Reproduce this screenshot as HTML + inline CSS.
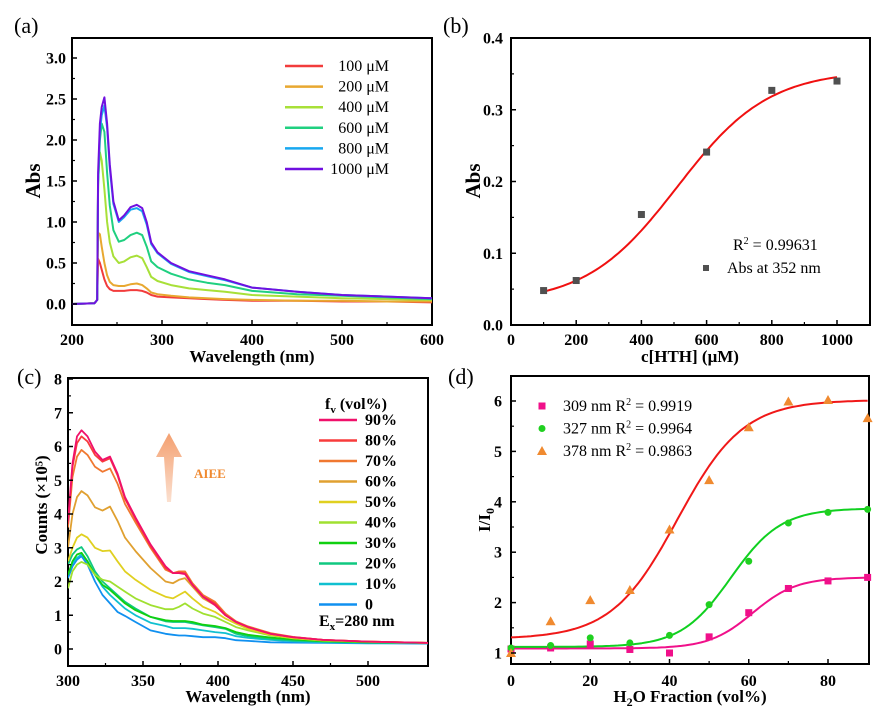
<!DOCTYPE html>
<html><head><meta charset="utf-8"><style>
html,body{margin:0;padding:0;background:#fff;}
svg{display:block;font-family:"Liberation Serif",serif;}
.tk{font-weight:bold;font-size:16px;}
.at{font-weight:bold;font-size:17px;}
.pl{font-size:22px;}
.lg{font-size:16px;}
</style></head><body>
<svg id="fig" width="890" height="709" viewBox="0 0 890 709" xmlns="http://www.w3.org/2000/svg"></svg>
<script>
// ---- Panel (a) data ----
const aWl = [200,225,228,229,231,233,236,239,242,246,252,258,265,272,278,283,288,295,310,330,350,370,400,450,500,550,600];
const aLabels = ["100 μM","200 μM","400 μM","600 μM","800 μM","1000 μM"];
const a100 = [0,0.01,0.05,0.55,0.5,0.42,0.3,0.22,0.18,0.16,0.16,0.16,0.17,0.17,0.16,0.14,0.11,0.09,0.08,0.07,0.06,0.05,0.04,0.04,0.03,0.03,0.02];
const a200 = [0,0.01,0.05,0.87,0.85,0.7,0.5,0.35,0.27,0.23,0.22,0.22,0.24,0.25,0.23,0.19,0.14,0.12,0.1,0.08,0.07,0.06,0.05,0.04,0.04,0.03,0.03];
const a400 = [0,0.01,0.05,1.5,1.85,1.75,1.4,1.0,0.75,0.58,0.5,0.52,0.57,0.59,0.56,0.45,0.33,0.28,0.23,0.19,0.17,0.15,0.11,0.09,0.07,0.06,0.05];
const a600 = [0,0.01,0.05,1.45,2.0,2.2,2.1,1.6,1.2,0.9,0.76,0.78,0.84,0.87,0.84,0.7,0.52,0.45,0.37,0.3,0.26,0.23,0.16,0.12,0.1,0.08,0.06];
const a800 = [0,0.01,0.05,1.5,2.1,2.3,2.42,2.15,1.65,1.22,1.0,1.06,1.15,1.17,1.13,0.97,0.73,0.62,0.49,0.39,0.34,0.29,0.2,0.15,0.11,0.09,0.07];
const a1000 = [0,0.01,0.05,1.6,2.2,2.4,2.52,2.2,1.7,1.25,1.02,1.08,1.18,1.21,1.17,1.0,0.75,0.63,0.5,0.4,0.35,0.3,0.2,0.15,0.11,0.09,0.07];
const aXTicks = [200,300,400,500,600];
const aYTicks = ["0.0","0.5","1.0","1.5","2.0","2.5","3.0"];
// ---- Panel (b) data ----
const bConc = [100,200,400,600,800,1000];
const bAbs = [0.048,0.062,0.154,0.241,0.327,0.340];
const bFitA1 = 0.03, bFitA2 = 0.355, bFitX0 = 510, bFitDx = 140;
const bXTicks = [0,200,400,600,800,1000];
const bYTicks = ["0.0","0.1","0.2","0.3","0.4"];
// ---- Panel (c) data ----
const cWl = [300,303,306,309,313,318,323,328,333,338,345,355,365,370,374,378,383,390,398,405,412,420,435,450,470,500,540];
const cLabels = ["90%","80%","70%","60%","50%","40%","30%","20%","10%","0"];
const c90 = [3.8,5.5,6.3,6.48,6.3,5.85,5.6,5.7,5.2,4.5,3.9,3.1,2.45,2.25,2.25,2.22,1.9,1.55,1.3,1.0,0.8,0.65,0.45,0.35,0.27,0.22,0.18];
const c80 = [3.7,5.4,6.1,6.3,6.15,5.75,5.55,5.65,5.15,4.45,3.85,3.05,2.4,2.25,2.27,2.25,1.9,1.55,1.35,1.0,0.8,0.65,0.45,0.35,0.27,0.22,0.18];
const c70 = [3.6,5.1,5.7,5.9,5.75,5.4,5.25,5.35,4.9,4.3,3.75,3.0,2.35,2.25,2.3,2.3,1.95,1.6,1.4,1.05,0.82,0.67,0.47,0.36,0.27,0.22,0.18];
const c60 = [3.0,4.0,4.5,4.68,4.55,4.2,4.1,4.22,3.8,3.3,2.9,2.4,2.0,1.95,2.05,2.1,1.85,1.5,1.3,1.0,0.8,0.65,0.45,0.35,0.27,0.22,0.18];
const c50 = [2.6,3.0,3.3,3.4,3.3,3.0,2.9,2.92,2.6,2.3,2.05,1.75,1.55,1.5,1.6,1.7,1.5,1.25,1.1,0.9,0.75,0.6,0.42,0.32,0.26,0.22,0.18];
const c40 = [1.8,2.3,2.5,2.58,2.5,2.2,2.05,2.0,1.85,1.7,1.5,1.3,1.18,1.18,1.25,1.35,1.2,1.05,0.95,0.8,0.65,0.55,0.4,0.32,0.25,0.21,0.18];
const c30 = [2.2,2.6,2.8,2.85,2.6,2.2,1.9,1.75,1.55,1.35,1.15,0.95,0.85,0.83,0.83,0.83,0.8,0.72,0.68,0.62,0.5,0.42,0.34,0.28,0.23,0.2,0.18];
const c20 = [2.5,2.8,2.95,3.02,2.75,2.3,2.0,1.8,1.6,1.4,1.2,0.95,0.82,0.8,0.8,0.8,0.76,0.7,0.65,0.6,0.45,0.38,0.3,0.25,0.22,0.2,0.18];
const c10 = [2.2,2.55,2.7,2.8,2.6,2.2,1.85,1.6,1.4,1.2,1.0,0.78,0.68,0.62,0.62,0.62,0.6,0.55,0.5,0.47,0.38,0.33,0.27,0.23,0.2,0.18,0.17];
const c0 = [2.1,2.45,2.65,2.75,2.5,2.0,1.6,1.35,1.1,0.98,0.8,0.55,0.45,0.42,0.4,0.4,0.38,0.35,0.35,0.32,0.26,0.24,0.2,0.19,0.18,0.17,0.16];
const cXTicks = [300,350,400,450,500];
const cYTicks = [0,1,2,3,4,5,6,7,8];
// ---- Panel (d) data ----
const dFrac = [0,10,20,30,40,50,60,70,80,90];
const d309 = [1.08,1.10,1.18,1.07,1.00,1.32,1.80,2.28,2.43,2.50];
const d327 = [1.10,1.15,1.30,1.20,1.35,1.96,2.82,3.58,3.79,3.85];
const d378 = [1.00,1.63,2.05,2.25,3.45,4.43,5.48,5.99,6.02,5.66];
const dFit309 = [1.09,2.50,61,5.5];
const dFit327 = [1.12,3.87,55.5,6.3];
const dFit378 = [1.28,6.02,42,8.3];
const dXTicks = [0,20,40,60,80];
const dYTicks = [1,2,3,4,5,6];

const NS="http://www.w3.org/2000/svg";
const svg=document.getElementById('fig');
function mk(tag,at,parent){const e=document.createElementNS(NS,tag);for(const k in at)e.setAttribute(k,at[k]);(parent||svg).appendChild(e);return e;}
function txt(s,at,parent){const e=mk('text',at,parent);e.textContent=s;return e;}
function lin(d0,d1,r0,r1){return v=>r0+(v-d0)/(d1-d0)*(r1-r0);}
function boltz(p,x){return p[1]+(p[0]-p[1])/(1+Math.exp((x-p[2])/p[3]));}

function frame(name,x0,y0,x1,y1){
  const g=mk('g',{});
  
  
  const r=mk('rect',{x:x0,y:y0,width:x1-x0,height:y1-y0,fill:'none',stroke:'#000','stroke-width':2},g);
  
  
  return g;
}
function xTicks(g,ticks,X,yb,labY,minor){
  ticks.forEach((t,i)=>{
    const x=X(t);
    mk('line',{x1:x,x2:x,y1:yb,y2:yb-5,stroke:'#000','stroke-width':1.5},g);
    const l=txt(String(t),{x:x,y:labY,'text-anchor':'middle',class:'tk'},g);
    
    
    if(i<ticks.length-1){const xm=X(t+minor);mk('line',{x1:xm,x2:xm,y1:yb,y2:yb-3,stroke:'#000','stroke-width':1.2},g);}
  });
}
function yTicks(g,ticks,Y,xl,labX,minor){
  ticks.forEach((t,i)=>{
    const v=parseFloat(t);const y=Y(v);
    mk('line',{x1:xl,x2:xl+5,y1:y,y2:y,stroke:'#000','stroke-width':1.5},g);
    const l=txt(String(t),{x:labX,y:y+5.5,'text-anchor':'end',class:'tk'},g);
    
    
    if(i<ticks.length-1){const ym=Y(v+minor);mk('line',{x1:xl,x2:xl+3,y1:ym,y2:ym,stroke:'#000','stroke-width':1.2},g);}
  });
}
function path(g,xs,ys,X,Y,col,w){
  const d=xs.map((x,i)=>(i?'L':'M')+X(x).toFixed(1)+','+Y(ys[i]).toFixed(1)).join('');
  return mk('path',{d:d,fill:'none',stroke:col,'stroke-width':w||2,'stroke-linejoin':'round'},g);
}

// ===== Panel A =====
{
const X=lin(200,600,72,432), Y=lin(0,3,304,58);
const g=frame('panel-a-uv-spectra',72,38,432,325);
const pa=txt('(a)',{x:14,y:33,class:'pl'});
const cols=['#f23c3c','#e8a830','#a8e038','#20d080','#18a8f0','#7010e0'];
const series=[a100,a200,a400,a600,a800,a1000];
series.forEach((s,i)=>{const p=path(g,aWl,s,X,Y,cols[i],2);
  
  });
xTicks(g,aXTicks,X,325,345,50);
yTicks(g,aYTicks,Y,72,66,0.25);
aLabels.forEach((l,i)=>{const y=66+i*20.6;
  const ln=mk('line',{x1:285,x2:323,y1:y,y2:y,stroke:cols[i],'stroke-width':2.5},g);
  
  const t=txt(l,{x:389,y:y+5,'text-anchor':'end',class:'lg'},g);
  });
const yt=txt('Abs',{x:40,y:181,transform:'rotate(-90 40 181)','text-anchor':'middle',class:'at',style:'font-size:21px'});

const xt=txt('Wavelength (nm)',{x:252,y:362,'text-anchor':'middle',class:'at'});

}
// ===== Panel B =====
{
const X=lin(0,1000,511,837), Y=lin(0,0.4,325,38);
const g=frame('panel-b-abs-fit',511,38,870,325);
const pb=txt('(b)',{x:443,y:33,class:'pl'});
const fx=[],fy=[];for(let c=bConc[0];c<=bConc[bConc.length-1];c+=10){fx.push(c);fy.push(bFitA2+(bFitA1-bFitA2)/(1+Math.exp((c-bFitX0)/bFitDx)));}
const fp=path(g,fx,fy,X,Y,'#f01010',2);
bConc.forEach((c,i)=>{const r=mk('rect',{x:X(c)-3.5,y:Y(bAbs[i])-3.5,width:7,height:7,fill:'#505050'},g);
  });
xTicks(g,bXTicks,X,325,345,100);
yTicks(g,bYTicks,Y,511,503,0.05);
const r2=txt('R',{x:733,y:250,class:'lg'},g);r2.innerHTML='R<tspan dy="-6" font-size="10">2</tspan><tspan dy="6"> = 0.99631</tspan>';

const lm=mk('rect',{x:703,y:265,width:6,height:6,fill:'#505050'},g);
const lt=txt('Abs at 352 nm',{x:727,y:273,class:'lg'},g);
const yt=txt('Abs',{x:480,y:181,transform:'rotate(-90 480 181)','text-anchor':'middle',class:'at',style:'font-size:21px'});

const xt=txt('c[HTH] (μM)',{x:690,y:362,'text-anchor':'middle',class:'at'});

}
// ===== Panel C =====
{
const X=lin(300,500,68,368), Y=lin(0,8,649,379);
const g=frame('panel-c-fluorescence',68,378,428,666);
const pc=txt('(c)',{x:17,y:384,class:'pl'});
const cols=['#f0106a','#f83c3c','#f07830','#e0a030','#e0d020','#a0e030','#10d010','#10c880','#10c0d0','#1090f0'];
const series=[c90,c80,c70,c60,c50,c40,c30,c20,c10,c0];
const cl=mk('clipPath',{id:'clipc'});mk('rect',{x:68,y:378,width:360,height:288},cl);
const sg=mk('g',{'clip-path':'url(#clipc)'},g);
for(let i=series.length-1;i>=0;i--){const p=path(sg,cWl,series[i],X,Y,cols[i],1.8);
  }
xTicks(g,cXTicks,X,666,686,25);
yTicks(g,cYTicks,Y,68,62,0.5);
const ft=txt('f',{x:325,y:409,class:'lg',style:'font-weight:bold'},g);ft.innerHTML='f<tspan dy="4" font-size="11">v</tspan><tspan dy="-4">  (vol%)</tspan>';

cLabels.forEach((l,i)=>{const y=420+i*20.5;
  const ln=mk('line',{x1:319,x2:357,y1:y,y2:y,stroke:cols[i],'stroke-width':2.5},g);
  
  const t=txt(l,{x:365,y:y+5,class:'lg',style:'font-weight:bold'},g);
  });
const ex=txt('E',{x:319,y:626,class:'lg',style:'font-weight:bold'},g);ex.innerHTML='E<tspan dy="4" font-size="11">x</tspan><tspan dy="-4">=280 nm</tspan>';

const defs=mk('defs',{});const gr=mk('linearGradient',{id:'ag',x1:0,y1:0,x2:0,y2:1},defs);
mk('stop',{offset:0,'stop-color':'#f4a070'},gr);mk('stop',{offset:1,'stop-color':'#fbe0d0'},gr);
const ar=mk('polygon',{points:'169,433 182,457 174,457 171,502 167,502 164,457 156,457',fill:'url(#ag)'},g);

const ai=txt('AIEE',{x:194,y:478,fill:'#f08a30',style:'font-size:13px;font-weight:bold'},g);

const yt=txt('Counts (×10⁵)',{x:47,y:505,transform:'rotate(-90 47 505)','text-anchor':'middle',class:'at'});

const xt=txt('Wavelength (nm)',{x:248,y:702,'text-anchor':'middle',class:'at'});

}
// ===== Panel D =====
{
const X=lin(0,80,511,828), Y=lin(1,6,653,401);
const g=frame('panel-d-intensity-ratio',511,376,869,664);
const pd=txt('(d)',{x:448,y:384,class:'pl'});
const fits=[dFit309,dFit327,dFit378], cols=['#f0108a','#10d020','#f01818'], mcol=['#f0108a','#20d020','#f08a30'];
const data=[d309,d327,d378], names=['309nm','327nm','378nm'];
fits.forEach((p,k)=>{const fx=[],fy=[];for(let x=0;x<=90;x+=1){fx.push(x);fy.push(boltz(p,x));}
  const fp=path(g,fx,fy,X,Y,cols[k],2);});
data.forEach((s,k)=>{s.forEach((v,i)=>{const x=X(dFrac[i]),y=Y(v);let m;
  if(k===0)m=mk('rect',{x:x-3.5,y:y-3.5,width:7,height:7,fill:mcol[k]},g);
  else if(k===1)m=mk('circle',{cx:x,cy:y,r:3.5,fill:mcol[k]},g);
  else m=mk('polygon',{points:`${x},${y-5} ${x+5},${y+4} ${x-5},${y+4}`,fill:mcol[k]},g);
  });});
xTicks(g,dXTicks,X,664,686,10);
yTicks(g,dYTicks,Y,511,502,0.5);
const leg=[['309 nm','0.9919'],['327 nm','0.9964'],['378 nm','0.9863']];
leg.forEach((l,k)=>{const y=406+k*22.5;const x=542;let m;
  if(k===0)m=mk('rect',{x:x-3.5,y:y-3.5,width:7,height:7,fill:mcol[k]},g);
  else if(k===1)m=mk('circle',{cx:x,cy:y,r:3.5,fill:mcol[k]},g);
  else m=mk('polygon',{points:`${x},${y-5} ${x+5},${y+4} ${x-5},${y+4}`,fill:mcol[k]},g);
  
  const t=txt('',{x:563,y:y+5,class:'lg'},g);t.innerHTML=l[0]+' R<tspan dy="-6" font-size="10">2</tspan><tspan dy="6"> = '+l[1]+'</tspan>';
  });
const yt=txt('',{x:490,y:520,transform:'rotate(-90 490 520)','text-anchor':'middle',class:'at'});yt.innerHTML='I/I<tspan dy="4" font-size="12">0</tspan>';

const xt=txt('',{x:690,y:702,'text-anchor':'middle',class:'at'});xt.innerHTML='H<tspan dy="4" font-size="12">2</tspan><tspan dy="-4">O Fraction (vol%)</tspan>';

}
</script>
</body></html>
